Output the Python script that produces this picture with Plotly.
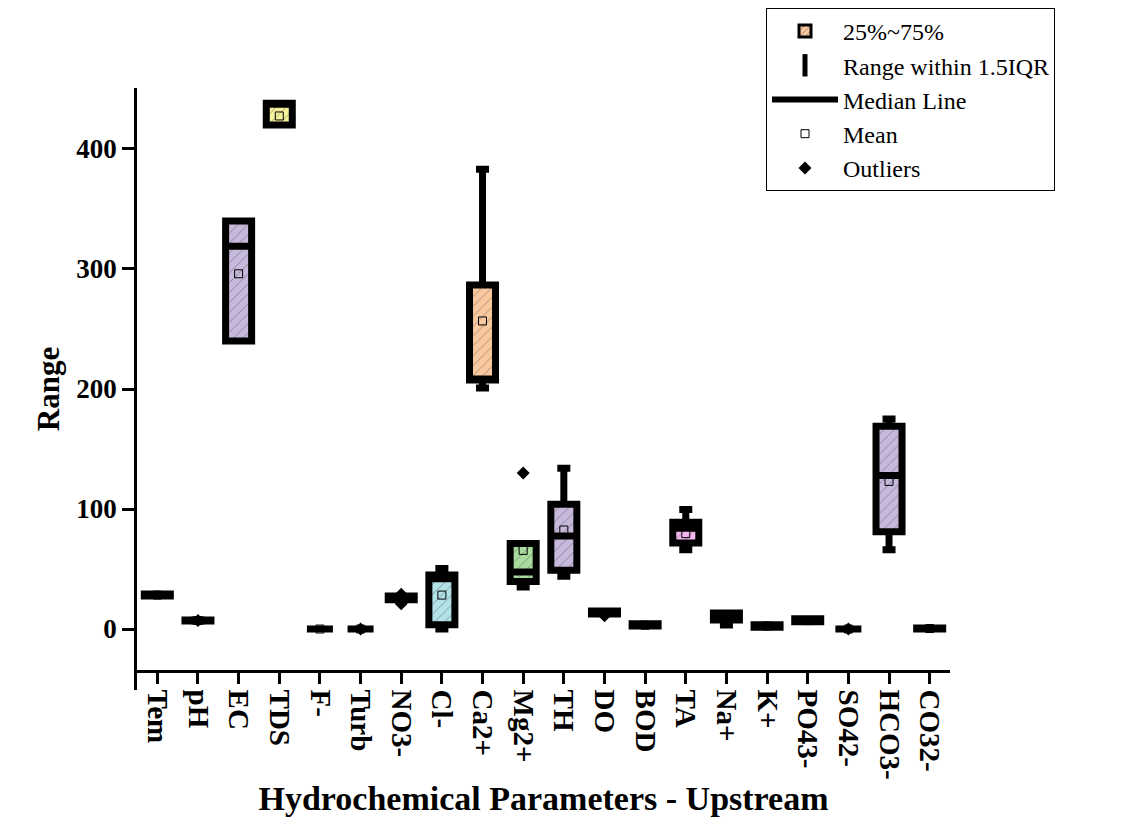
import plotly.graph_objects as go

categories = ["Tem", "pH", "EC", "TDS", "F-", "Turb", "NO3-", "Cl-", "Ca2+", "Mg2+",
              "TH", "DO", "BOD", "TA", "Na+", "K+", "PO43-", "SO42-", "HCO3-", "CO32-"]
lower_whisker = [27.6, 6.5, 240, 420, 0, 0, 24.5, 0, 200.8, 35,
                 44, 12.5, 2.5, 66, 3.3, 1.5, 6, 0, 66, 0]
q1_values = [27.6, 6.7, 240, 420, 0, 0, 24.5, 3.5, 207.5, 39.6,
             49, 12.5, 2.5, 71.7, 7.5, 1.5, 6, 0, 81, 0]
median_values = [28.3, 7.1, 319, 438, 0, 0, 26, 42, 207.5, 47.5,
                 77.5, 13.7, 3.2, 84, 10, 2.5, 7, 0, 128, 0.4]
q3_values = [29.2, 7.6, 340, 438, 0, 0, 27.5, 45, 286.7, 71.3,
             104, 15, 4.5, 89, 13.3, 3.5, 8.5, 0, 169, 0.8]
upper_whisker = [29.2, 7.8, 340, 438, 0, 0, 27.5, 50.4, 383, 71.3,
                 134, 15, 4.5, 99.6, 13.3, 3.5, 8.5, 0, 175, 0.8]
mean_values = [28.3, 7.1, 296, 427.5, 0, 0, 25.5, 28.3, 256.7, 65.5,
               82.5, 13.7, 3.2, 79.5, 10.5, 2.5, 7, 0, 123, 0.4]
outlier_categories = ["pH", "Turb", "NO3-", "NO3-", "Mg2+", "DO", "SO42-"]
outlier_values = [7.1, 0, 29, 21, 130, 11, 0]
fill_colors = ["#C6B9DB", "#F7F29C", "#C6B9DB", "#F7F29C", "#F9C89F", "#B3E3E8", "#A9DC9F",
               "#B3E3E8", "#F9C89F", "#A9DC9F", "#C6B9DB", "#F6B8F1", "#F7F29C", "#F6B8F1",
               "#F9C89F", "#B3E3E8", "#A9DC9F", "#F7F29C", "#C6B9DB", "#F6B8F1"]
y_ticks = [0, 100, 200, 300, 400]

FONT = "Liberation Serif"
BOX_W = 0.64
LW = 7

fig = go.Figure()

# hatched IQR fill (drawn under the box outline)
fig.add_trace(go.Bar(
    x=categories,
    y=[b - a for a, b in zip(q1_values, q3_values)],
    base=q1_values,
    width=BOX_W,
    marker=dict(color=fill_colors, line=dict(width=0),
                pattern=dict(shape="/", fillmode="overlay", fgcolor="black",
                             size=7, solidity=0.12)),
    showlegend=False, hoverinfo="skip",
))

# box outline, median line and whiskers
fig.add_trace(go.Box(
    x=categories,
    q1=q1_values, median=median_values, q3=q3_values,
    lowerfence=lower_whisker, upperfence=upper_whisker,
    width=BOX_W, whiskerwidth=0.5,
    fillcolor="rgba(0,0,0,0)",
    line=dict(color="black", width=LW),
    boxpoints=False, showlegend=False,
))

# legend-only entries
fig.add_trace(go.Bar(
    x=[None], y=[None], name="25%~75%",
    marker=dict(color="#F9C89F", line=dict(color="black", width=3),
                pattern=dict(shape="/", fillmode="overlay", fgcolor="black",
                             size=5, solidity=0.15)),
    legendrank=1,
))
fig.add_trace(go.Scatter(
    x=[None], y=[None], name="Range within 1.5IQR", mode="markers",
    marker=dict(symbol="line-ns-open", size=22, color="black",
                line=dict(color="black", width=5)),
    legendrank=2,
))
fig.add_trace(go.Scatter(
    x=[None], y=[None], name="Median Line", mode="lines",
    line=dict(color="black", width=6),
    legendrank=3,
))

# mean markers
fig.add_trace(go.Scatter(
    x=categories, y=mean_values, name="Mean", mode="markers",
    marker=dict(symbol="square-open", size=8, color="black", line=dict(width=1)),
    legendrank=4,
))
# outliers
fig.add_trace(go.Scatter(
    x=outlier_categories, y=outlier_values, name="Outliers", mode="markers",
    marker=dict(symbol="diamond", size=10, color="black"),
    legendrank=5,
))

# page body adds an 8px offset; margins below compensate
W, H = 1124, 818
L, R, T, B = 129, 182, 80, 136
ph = H - T - B

fig.update_layout(
    width=W, height=H,
    margin=dict(l=L, r=R, t=T, b=B, autoexpand=False),
    plot_bgcolor="white", paper_bgcolor="white",
    barmode="overlay",
    font=dict(family=FONT, color="black"),
    legend=dict(
        x=(758 - L) / (W - L - R), y=(H - B - 0) / ph,
        xanchor="left", yanchor="top",
        bgcolor="white", bordercolor="black", borderwidth=1,
        font=dict(family=FONT, size=24, color="black"),
        itemwidth=66, tracegroupgap=0, traceorder="normal",
    ),
    xaxis=dict(
        type="category",
        categoryorder="array", categoryarray=categories,
        range=[-0.5, 19.5],
        anchor="free", position=(682 - 663) / ph,
        showline=True, linecolor="black", linewidth=2.5,
        ticks="outside", ticklen=11, tickwidth=2.5, tickcolor="black",
        tickangle=90,
        tickfont=dict(family=FONT, size=29, weight="bold", color="black"),
        showgrid=False, zeroline=False,
        title=dict(text="Hydrochemical Parameters - Upstream",
                   font=dict(family=FONT, size=34, weight="bold", color="black"),
                   standoff=7),
    ),
    yaxis=dict(
        range=[-50.8, 450.8],
        tickmode="array", tickvals=y_ticks, ticktext=[str(v) for v in y_ticks],
        showline=True, linecolor="black", linewidth=2.5,
        ticks="outside", ticklen=12, tickwidth=2.5, tickcolor="black",
        tickfont=dict(family=FONT, size=27, weight="bold", color="black"),
        showgrid=False, zeroline=False,
        title=dict(text="Range",
                   font=dict(family=FONT, size=31, weight="bold", color="black"),
                   standoff=8),
    ),
)

fig.write_html("out.html")
